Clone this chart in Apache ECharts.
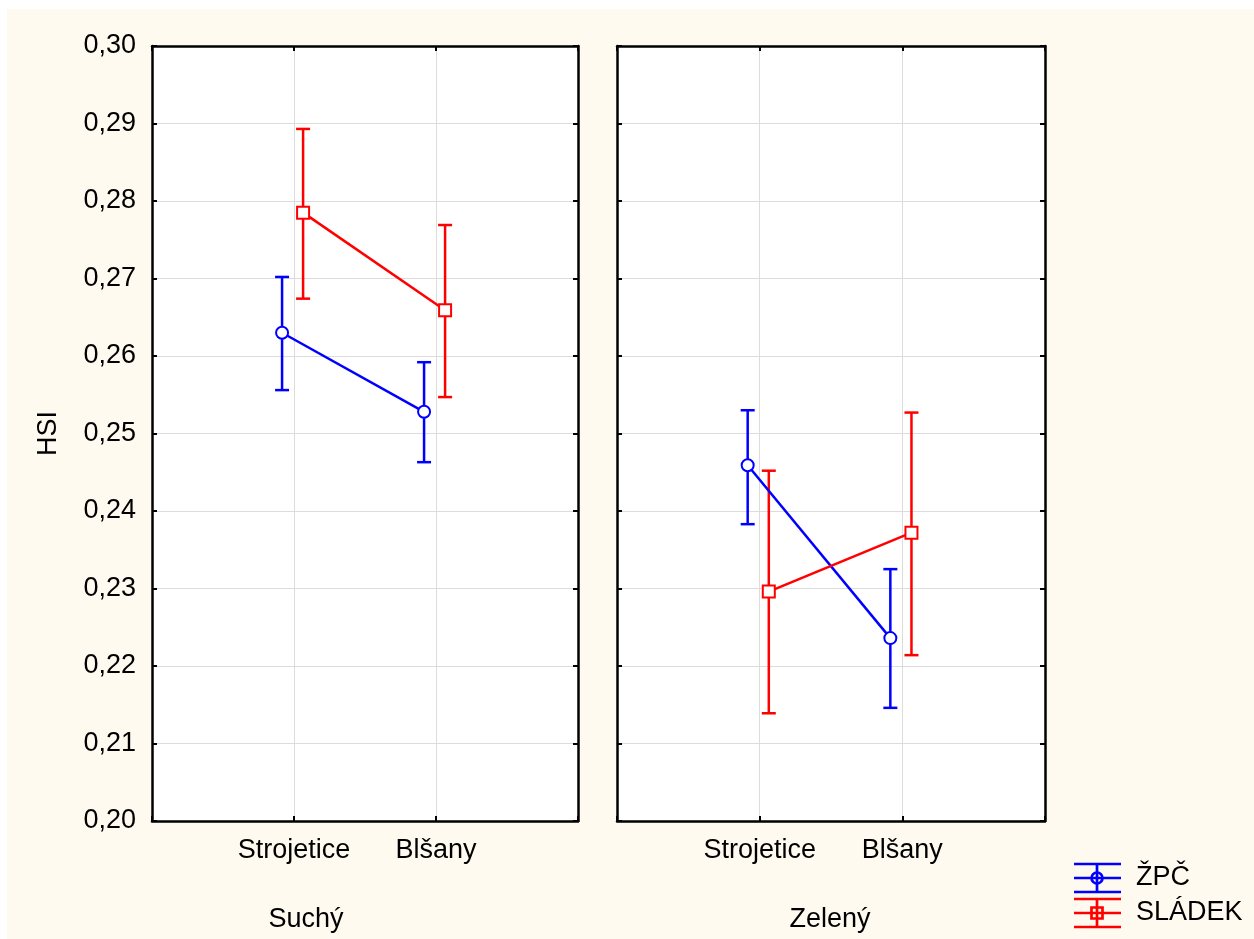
<!DOCTYPE html>
<html>
<head>
<meta charset="utf-8">
<script src="https://cdn.jsdelivr.net/npm/echarts@6/dist/echarts.min.js"></script>
<style>
html,body{margin:0;padding:0;background:#ffffff;}
#bg{position:absolute;left:7px;top:9px;width:1247px;height:930px;background:#fffaf0;}
#chart{position:absolute;left:0;top:0;width:1254px;height:939px;}
</style>
</head>
<body>
<div id="bg"></div>
<div id="chart"></div>
<script>
// ---- data ----
var categories = ['Strojetice', 'Blšany'];
var panels = ['Suchý', 'Zelený'];
var groups = ['ŽPČ', 'SLÁDEK'];
var yTicks = ['0,20','0,21','0,22','0,23','0,24','0,25','0,26','0,27','0,28','0,29','0,30'];

// per panel [Strojetice, Blšany]
var zpcMean    = [[0.2630, 0.2528], [0.2459, 0.2236]];
var zpcLow     = [[0.2556, 0.2463], [0.2383, 0.2146]];
var zpcHigh    = [[0.2702, 0.2592], [0.2530, 0.2325]];
var sladekMean = [[0.2785, 0.2659], [0.2296, 0.2372]];
var sladekLow  = [[0.2674, 0.2547], [0.2139, 0.2214]];
var sladekHigh = [[0.2893, 0.2769], [0.2452, 0.2527]];

var colors = ['#0000ff', '#ff0000'];
var offsets = [-0.084, 0.064];
var FONT = 'Liberation Sans, Arial, sans-serif';
var FS = 27;

var chart = echarts.init(document.getElementById('chart'), null, {renderer: 'canvas'});

var gridBox = [
  {left: 152, top: 46, width: 426, height: 775},
  {left: 617, top: 46, width: 428, height: 775}
];

var grids = [], xAxes = [], yAxes = [], series = [];
var gridLine = {show: true, lineStyle: {color: '#dcdcdc', width: 1}};
var border = {show: true, onZero: false, lineStyle: {color: '#000000', width: 2.5}};
var tick = {show: true, inside: true, length: 5, lineStyle: {color: '#000', width: 2}};

gridBox.forEach(function (g, p) {
  grids.push({left: g.left, top: g.top, width: g.width, height: g.height,
    show: true, backgroundColor: '#ffffff', borderWidth: 0, z: 0});
  xAxes.push({
    type: 'value', gridIndex: p, min: 0, max: 3, interval: 1, position: 'bottom',
    axisLine: border, axisTick: tick,
    axisLabel: {show: true, margin: 16, color: '#000', fontSize: FS, fontFamily: FONT,
      formatter: function (v) { return (v >= 1 && v <= categories.length && v === Math.round(v)) ? categories[v - 1] : ''; }},
    splitLine: gridLine
  });
  xAxes.push({
    type: 'value', gridIndex: p, min: 0, max: 3, interval: 1, position: 'top',
    axisLine: border, axisTick: tick,
    axisLabel: {show: false}, splitLine: {show: false}
  });
  yAxes.push({
    type: 'value', gridIndex: p, min: 0.20, max: 0.30, interval: 0.01, position: 'left',
    name: p === 0 ? 'HSI' : '', nameLocation: 'middle', nameGap: 90, nameRotate: 90,
    nameTextStyle: {color: '#000', fontSize: FS, fontFamily: FONT},
    axisLine: border, axisTick: tick,
    axisLabel: {show: p === 0, margin: 16, color: '#000', fontSize: FS, fontFamily: FONT,
      formatter: function (v) { return yTicks[Math.round((v - 0.20) * 100)]; }},
    splitLine: gridLine
  });
  yAxes.push({
    type: 'value', gridIndex: p, min: 0.20, max: 0.30, interval: 0.01, position: 'right',
    axisLine: border, axisTick: tick,
    axisLabel: {show: false}, splitLine: {show: false}
  });
});

function errRender(color) {
  return function (params, api) {
    var x = api.value(0), lo = api.value(1), hi = api.value(2);
    var a = api.coord([x, lo]), b = api.coord([x, hi]);
    var w = 7;
    var st = {stroke: color, lineWidth: 2.5};
    return {type: 'group', children: [
      {type: 'line', shape: {x1: a[0], y1: a[1], x2: b[0], y2: b[1]}, style: st},
      {type: 'line', shape: {x1: a[0] - w, y1: a[1], x2: a[0] + w, y2: a[1]}, style: st},
      {type: 'line', shape: {x1: b[0] - w, y1: b[1], x2: b[0] + w, y2: b[1]}, style: st}
    ]};
  };
}

var means = [zpcMean, sladekMean], lows = [zpcLow, sladekLow], highs = [zpcHigh, sladekHigh];
var symbols = ['emptyCircle', 'emptyRect'];

for (var p = 0; p < panels.length; p++) {
  for (var s = 0; s < groups.length; s++) {
    var lineData = [], errData = [];
    for (var c = 0; c < categories.length; c++) {
      var x = c + 1 + offsets[s];
      lineData.push([x, means[s][p][c]]);
      errData.push([x, lows[s][p][c], highs[s][p][c]]);
    }
    series.push({
      type: 'custom', name: groups[s], xAxisIndex: p * 2, yAxisIndex: p * 2,
      renderItem: errRender(colors[s]), data: errData, z: 3, silent: true
    });
    series.push({
      type: 'line', name: groups[s], xAxisIndex: p * 2, yAxisIndex: p * 2,
      data: lineData, symbol: symbols[s], symbolSize: 12, showSymbol: true,
      lineStyle: {color: colors[s], width: 2.5},
      itemStyle: {color: colors[s], borderColor: colors[s], borderWidth: 2.5},
      z: 4, silent: true
    });
  }
}

var legendItems = [];
groups.forEach(function (name, i) {
  var cy = 878 + i * 35;
  var st = {stroke: colors[i], lineWidth: 2.7};
  legendItems.push(
    {type: 'line', shape: {x1: 1074, y1: cy - 14, x2: 1121, y2: cy - 14}, style: st},
    {type: 'line', shape: {x1: 1074, y1: cy, x2: 1121, y2: cy}, style: st},
    {type: 'line', shape: {x1: 1074, y1: cy + 14, x2: 1121, y2: cy + 14}, style: st},
    {type: 'line', shape: {x1: 1097, y1: cy - 14, x2: 1097, y2: cy + 14}, style: st},
    i === 0
      ? {type: 'circle', shape: {cx: 1097, cy: cy, r: 5.5}, style: {fill: 'none', stroke: colors[i], lineWidth: 2.7}}
      : {type: 'rect', shape: {x: 1091.5, y: cy - 5.5, width: 11, height: 11}, style: {fill: 'none', stroke: colors[i], lineWidth: 2.7}},
    {type: 'text', x: 1136, y: cy, style: {text: name, fill: '#000', font: FS + 'px ' + FONT, textVerticalAlign: 'middle'}}
  );
});

var option = {
  animation: false,
  backgroundColor: 'transparent',
  grid: grids,
  xAxis: xAxes,
  yAxis: yAxes,
  series: series,
  graphic: [
    {type: 'text', x: 306, y: 920, style: {text: panels[0], fill: '#000', font: FS + 'px ' + FONT, textAlign: 'center', textVerticalAlign: 'middle'}},
    {type: 'text', x: 830, y: 920, style: {text: panels[1], fill: '#000', font: FS + 'px ' + FONT, textAlign: 'center', textVerticalAlign: 'middle'}}
  ].concat(legendItems)
};
chart.setOption(option);
</script>
</body>
</html>
